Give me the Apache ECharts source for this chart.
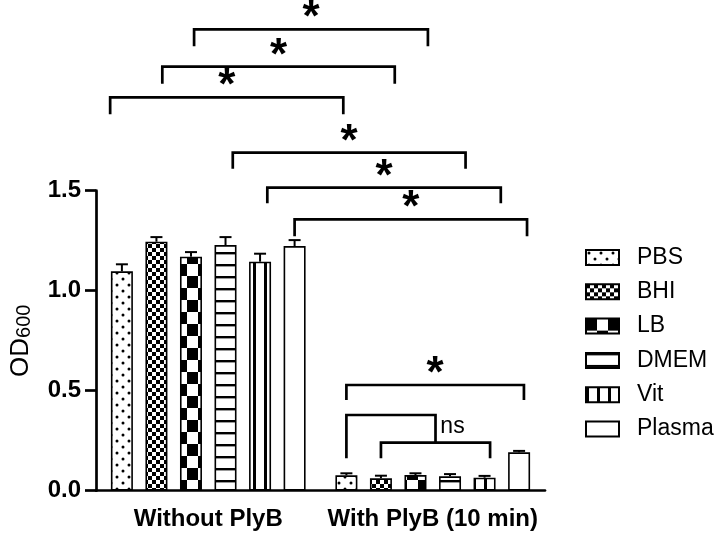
<!DOCTYPE html>
<html><head><meta charset="utf-8">
<script src="https://cdn.jsdelivr.net/npm/echarts@6/dist/echarts.min.js"></script>
<style>html,body{margin:0;padding:0;background:#fff}#c{width:717px;height:535px}</style>
</head><body><div id="c"></div>
<script>
// ---- data ----
const categories = ['Without PlyB', 'With PlyB (10 min)'];
const media = ['PBS', 'BHI', 'LB', 'DMEM', 'Vit', 'Plasma'];
const meanWithout = [1.097, 1.245, 1.170, 1.228, 1.145, 1.223];
const errWithout  = [0.035, 0.023, 0.023, 0.040, 0.040, 0.030];
const meanWith    = [0.077, 0.062, 0.078, 0.072, 0.065, 0.192];
const errWith     = [0.010, 0.013, 0.009, 0.011, 0.009, 0.007];
const yTickLabels = ['0.0', '0.5', '1.0', '1.5'];
// significance brackets: [leftCategory, leftBar, rightCategory, rightBar, level, legDrop, label]
const starBrackets = [
  [0, 2.09, 1, 2.36, 2.307, 0.085, '*'],
  [0, 1.17, 1, 1.40, 2.120, 0.085, '*'],
  [0, -0.34, 1, -0.09, 1.967, 0.085, '*'],
  [0, 3.21, 1, 3.45, 1.690, 0.080, '*'],
  [0, 4.21, 1, 4.47, 1.515, 0.078, '*'],
  [0, 5.00, 1, 5.23, 1.357, 0.085, '*'],
  [1, 0.00, 1, 5.14, 0.5285, 0.075, '*']
];
// nested "ns" bracket: polylines of [category, bar, value]
const nsOuter = [[1, 0, 0.162], [1, 0, 0.3785], [1, 2.58, 0.3785], [1, 2.58, 0.24]];
const nsInner = [[1, 1, 0.162], [1, 1, 0.24], [1, 4.16, 0.24], [1, 4.16, 0.162]];
const nsLabel = [1, 2.72, 0.32, 'ns'];

// ---- style ----
const FONT = 'Liberation Sans, Arial, Helvetica, sans-serif';
const BAR_W = 22, BAR_GAP = 0.57;
const STEP = BAR_W * (1 + BAR_GAP);
const NBARS = media.length;
const LW = 2.7;

function pattern(w, h, draw) {
  const c = document.createElement('canvas');
  c.width = w; c.height = h;
  const g = c.getContext('2d');
  g.fillStyle = '#fff'; g.fillRect(0, 0, w, h);
  g.fillStyle = '#000';
  draw(g);
  return { image: c, repeat: 'repeat' };
}
const fills = [
  pattern(12, 12, g => { g.beginPath(); g.arc(3, 3, 1.5, 0, Math.PI * 2); g.fill(); g.beginPath(); g.arc(9, 9, 1.5, 0, Math.PI * 2); g.fill(); }),
  pattern(8, 8, g => { g.fillRect(0, 0, 4, 4); g.fillRect(4, 4, 4, 4); }),
  pattern(22, 24, g => { g.fillRect(0, 0, 11, 12); g.fillRect(11, 12, 11, 12); }),
  pattern(4, 12, g => { g.fillRect(0, 0, 4, 2.4); }),
  pattern(11, 4, g => { g.fillRect(0, 0, 3, 4); }),
  '#ffffff'
];

const barSeries = media.map((m, i) => ({
  name: m,
  type: 'bar',
  data: [meanWithout[i], meanWith[i]],
  barWidth: BAR_W,
  barGap: (BAR_GAP * 100) + '%',
  itemStyle: { color: fills[i], borderColor: '#000', borderWidth: 1.6 },
  z: 2
}));

const errData = [];
media.forEach((m, i) => {
  errData.push([0, i, meanWithout[i], errWithout[i]]);
  errData.push([1, i, meanWith[i], errWith[i]]);
});

function barX(api, cat, bar, val) {
  const p = api.coord([cat, val]);
  return [p[0] + (bar - (NBARS - 1) / 2) * STEP, p[1]];
}

const errorSeries = {
  type: 'custom',
  data: errData,
  encode: { x: 0, y: 2 },
  z: 5,
  renderItem: (params, api) => {
    const cat = api.value(0), bar = api.value(1), m = api.value(2), e = api.value(3);
    const b = barX(api, cat, bar, m), t = barX(api, cat, bar, m + e);
    return {
      type: 'group', children: [
        { type: 'line', shape: { x1: b[0], y1: b[1], x2: t[0], y2: t[1] }, style: { stroke: '#000', lineWidth: 2 } },
        { type: 'line', shape: { x1: t[0] - 6, y1: t[1], x2: t[0] + 6, y2: t[1] }, style: { stroke: '#000', lineWidth: 2 } }
      ]
    };
  }
};

// annotation items
const annots = [];
starBrackets.forEach(b => annots.push({ kind: 'bracket', b }));
annots.push({ kind: 'poly', pts: nsOuter });
annots.push({ kind: 'poly', pts: nsInner });
annots.push({ kind: 'text', t: nsLabel });

const STAR_SIZE = 44;
const annotSeries = {
  type: 'custom',
  data: annots.map((a, i) => [0, 0, i]),
  encode: { x: 0, y: 1 },
  clip: false,
  silent: true,
  z: 6,
  renderItem: (params, api) => {
    const a = annots[api.value(2)];
    const lineStyle = { stroke: '#000', lineWidth: LW, fill: null, lineJoin: 'miter' };
    if (a.kind === 'bracket') {
      const [cl, bl, cr, br, lev, drop, label] = a.b;
      const p1 = barX(api, cl, bl, lev - drop), p2 = barX(api, cl, bl, lev);
      const p3 = barX(api, cr, br, lev), p4 = barX(api, cr, br, lev - drop);
      return {
        type: 'group', children: [
          { type: 'polyline', shape: { points: [p1, p2, p3, p4] }, style: lineStyle },
          { type: 'text', style: { text: label, x: (p2[0] + p3[0]) / 2, y: p2[1] - 22 + STAR_SIZE * 0.27,
              font: 'bold ' + STAR_SIZE + 'px ' + FONT, fill: '#000', textAlign: 'center', textVerticalAlign: 'middle' } }
        ]
      };
    }
    if (a.kind === 'poly') {
      return { type: 'polyline', shape: { points: a.pts.map(p => barX(api, p[0], p[1], p[2])) }, style: lineStyle };
    }
    const p = barX(api, a.t[0], a.t[1], a.t[2]);
    return { type: 'text', style: { text: a.t[3], x: p[0], y: p[1], font: '23px ' + FONT, fill: '#000',
      textAlign: 'left', textVerticalAlign: 'middle' } };
  }
};

const chart = echarts.init(document.getElementById('c'));
chart.setOption({
  animation: false,
  backgroundColor: '#fff',
  grid: { left: 93, top: 190.7, width: 452, bottom: 44.3 },
  legend: {
    data: media,
    orient: 'vertical',
    left: 580,
    top: 241,
    itemWidth: 33,
    itemHeight: 15,
    itemGap: 11.3,
    icon: 'rect',
    selectedMode: false,
    textStyle: { fontFamily: FONT, fontSize: 23, lineHeight: 22, color: '#000', padding: [0, 0, 0, 13] }
  },
  xAxis: {
    type: 'category',
    data: categories,
    axisLine: { lineStyle: { color: '#000', width: LW } },
    axisTick: { alignWithLabel: true, length: 12, lineStyle: { color: '#000', width: LW } },
    axisLabel: { interval: 0, fontFamily: FONT, fontSize: 24, fontWeight: 'bold', color: '#000', margin: 17 }
  },
  yAxis: {
    type: 'value',
    min: 0, max: 1.5, interval: 0.5,
    name: '{a|OD}{b|600}',
    nameLocation: 'middle',
    nameGap: 62,
    nameRotate: 90,
    nameTextStyle: {
      rich: {
        a: { fontFamily: FONT, fontSize: 26, lineHeight: 26, color: '#000' },
        b: { fontFamily: FONT, fontSize: 20, lineHeight: 10, verticalAlign: 'bottom', color: '#000' }
      }
    },
    axisLine: { show: true, lineStyle: { color: '#000', width: LW } },
    axisTick: { show: true, length: 11, lineStyle: { color: '#000', width: LW } },
    splitLine: { show: false },
    axisLabel: { fontFamily: FONT, fontSize: 24, fontWeight: 'bold', color: '#000', margin: 15,
      formatter: (v) => yTickLabels[Math.round(v / 0.5)] }
  },
  series: [...barSeries, errorSeries, annotSeries]
});
</script></body></html>
